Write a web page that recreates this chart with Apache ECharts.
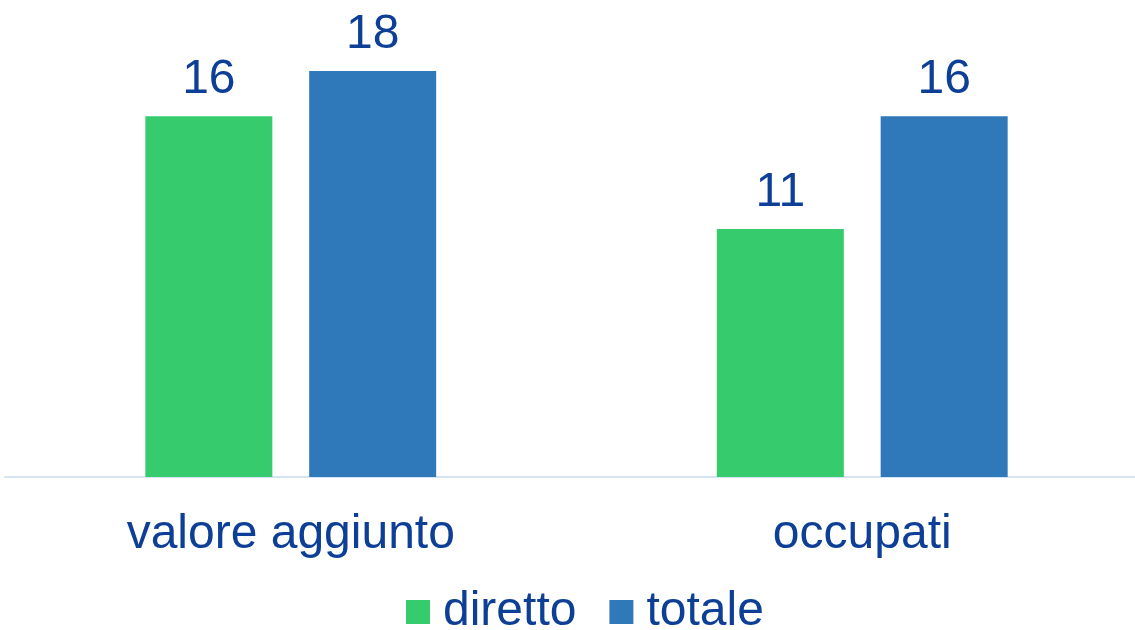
<!DOCTYPE html>
<html lang="it">
<head>
  <meta charset="UTF-8">
  <title>valore aggiunto e occupati</title>
  <style>
    html,body { width:100%; height:100%; margin:0; background:#fff; }
  </style>
</head>
<body>
  <div id="chart" style="width:1135px;height:630px"></div>
  <script src="https://cdn.jsdelivr.net/npm/echarts@6/dist/echarts.min.js"></script>
  <script>
    var categories = ['valore aggiunto', 'occupati'];
    var diretto = [16, 11];
    var totale = [18, 16];

    var textColor = '#0D3F97';
    var font = 'Liberation Sans, Arial, sans-serif';

    var myChart = echarts.init(document.getElementById('chart'));
    var option = {
      animation: false,
      // the plot area runs a little past the right edge of the canvas
      grid: { left: 5, width: 1143, top: 26, bottom: 153, containLabel: false, outerBoundsMode: 'none' },
      legend: {
        left: 406,
        top: 588,
        padding: 0,
        itemWidth: 24,
        itemHeight: 24,
        itemGap: 33,
        icon: 'rect',
        textStyle: { color: textColor, fontSize: 48, fontFamily: font, padding: [0, 0, 0, 8] },
        data: ['diretto', 'totale']
      },
      xAxis: {
        type: 'category',
        data: categories,
        axisLine: { lineStyle: { color: '#D6E3F5', width: 2 } },
        axisTick: { show: false },
        axisLabel: { color: textColor, fontSize: 48, fontFamily: font, margin: 34 }
      },
      yAxis: {
        type: 'value',
        min: 0,
        max: 20,
        show: false,
        splitLine: { show: false }
      },
      series: [{
        name: 'diretto',
        type: 'bar',
        data: diretto,
        barWidth: 127,
        barGap: '29%',
        itemStyle: { color: '#36CC6E' },
        label: { show: true, position: 'top', distance: 12, color: textColor, fontSize: 48, fontFamily: font }
      }, {
        name: 'totale',
        type: 'bar',
        data: totale,
        barWidth: 127,
        barGap: '29%',
        itemStyle: { color: '#2F79BA' },
        label: { show: true, position: 'top', distance: 12, color: textColor, fontSize: 48, fontFamily: font }
      }]
    };
    myChart.setOption(option);
  </script>
</body>
</html>
